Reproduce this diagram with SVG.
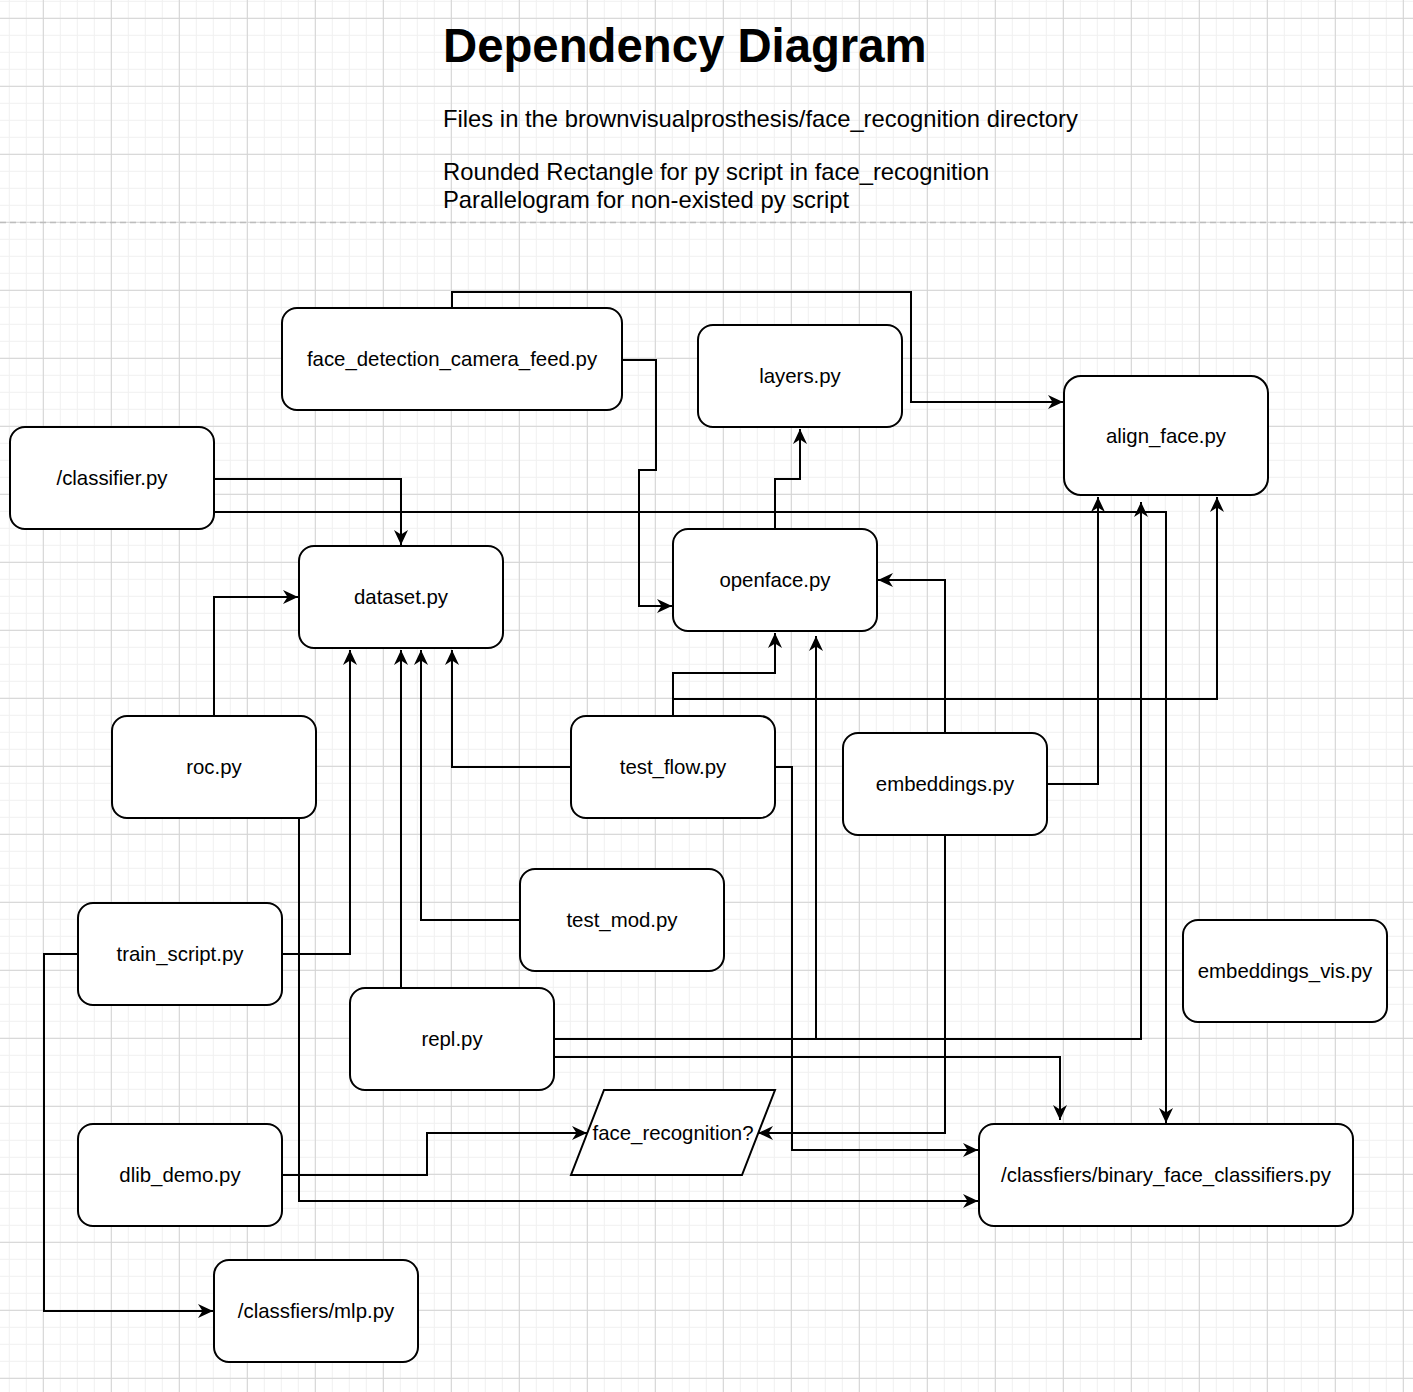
<svg xmlns="http://www.w3.org/2000/svg" width="1413" height="1392" viewBox="0 0 1413 1392">
<defs>
<pattern id="minor" width="17" height="17" patternUnits="userSpaceOnUse" x="8.8" y="0.8">
<path d="M0.5 0V17M0 0.5H17" stroke="#f0f0f0" stroke-width="1" fill="none"/>
</pattern>
<pattern id="major" width="68" height="68" patternUnits="userSpaceOnUse" x="42.8" y="17.8">
<path d="M0.5 0V68M0 0.5H68" stroke="#d3d3d3" stroke-width="1" fill="none"/>
</pattern>
<marker id="arr" markerWidth="15" markerHeight="15" viewBox="0 0 15 15" refX="15" refY="7.5" orient="auto" markerUnits="userSpaceOnUse">
<path d="M0,0.5 L15,7.5 L0,14.5 L4.5,7.5 Z" fill="#000"/>
</marker>
<style>
.edge{fill:none;stroke:#000;stroke-width:2;marker-end:url(#arr)}
.box{fill:#fff;stroke:#000;stroke-width:2}
.lbl{font-family:"Liberation Sans",Arial,sans-serif;font-size:20.4px;fill:#000;text-anchor:middle}
.note{font-family:"Liberation Sans",Arial,sans-serif;font-size:23.8px;fill:#000}
.title{font-family:"Liberation Sans",Arial,sans-serif;font-size:47.3px;font-weight:bold;fill:#000}
</style>
</defs>
<rect width="1413" height="1392" fill="#fff"/>
<rect width="1413" height="1392" fill="url(#minor)"/>
<rect width="1413" height="1392" fill="url(#major)"/>
<line x1="0" y1="222.5" x2="1413" y2="222.5" stroke="#bdbdbd" stroke-width="1.5" stroke-dasharray="6 4"/>

<g id="header">
<text class="title" x="443" y="62">Dependency Diagram</text>
<text class="note" x="443" y="127">Files in the brownvisualprosthesis/face_recognition directory</text>
<text class="note" x="443" y="180">Rounded Rectangle for py script in face_recognition</text>
<text class="note" x="443" y="208">Parallelogram for non-existed py script</text>
</g>

<g id="connectors">
<path class="edge" d="M452,308 V292 H911 V402 H1063"/>
<path class="edge" d="M622,360 H656 V470 H639 V606 H672"/>
<path class="edge" d="M214,479 H401 V545"/>
<path class="edge" d="M214,512 H1166 V1123"/>
<path class="edge" d="M214,716 V597 H298"/>
<path class="edge" d="M299,818 V1201 H978"/>
<path class="edge" d="M282,954 H350 V650"/>
<path class="edge" d="M78,954 H44 V1311 H213"/>
<path class="edge" d="M401,988 V650"/>
<path class="edge" d="M520,920 H421 V650"/>
<path class="edge" d="M571,767 H452 V650"/>
<path class="edge" d="M673,716 V673 H775 V633"/>
<path class="edge" d="M673,716 V699 H1217 V497"/>
<path class="edge" d="M775,767 H792 V1150 H978"/>
<path class="edge" d="M554,1039 H816 V636"/>
<path class="edge" d="M554,1039 H1141 V502"/>
<path class="edge" d="M554,1057 H1060 V1120"/>
<path class="edge" d="M945,733 V580 H878"/>
<path class="edge" d="M1047,784 H1098 V497"/>
<path class="edge" d="M945,835 V1133 H758"/>
<path class="edge" d="M282,1175 H427 V1133 H587"/>
<path class="edge" d="M775,529 V479 H800 V429"/>
</g>

<g id="face_detection_camera_feed">
<rect class="box" x="282" y="308" width="340" height="102" rx="15"/>
<text class="lbl" x="452" y="366">face_detection_camera_feed.py</text>
</g>
<g id="layers">
<rect class="box" x="698" y="325" width="204" height="102" rx="15"/>
<text class="lbl" x="800" y="383">layers.py</text>
</g>
<g id="align_face">
<rect class="box" x="1064" y="376" width="204" height="119" rx="17"/>
<text class="lbl" x="1166" y="443">align_face.py</text>
</g>
<g id="classifier">
<rect class="box" x="10" y="427" width="204" height="102" rx="15"/>
<text class="lbl" x="112" y="485">/classifier.py</text>
</g>
<g id="dataset">
<rect class="box" x="299" y="546" width="204" height="102" rx="15"/>
<text class="lbl" x="401" y="604">dataset.py</text>
</g>
<g id="openface">
<rect class="box" x="673" y="529" width="204" height="102" rx="15"/>
<text class="lbl" x="775" y="587">openface.py</text>
</g>
<g id="roc">
<rect class="box" x="112" y="716" width="204" height="102" rx="15"/>
<text class="lbl" x="214" y="774">roc.py</text>
</g>
<g id="test_flow">
<rect class="box" x="571" y="716" width="204" height="102" rx="15"/>
<text class="lbl" x="673" y="774">test_flow.py</text>
</g>
<g id="embeddings">
<rect class="box" x="843" y="733" width="204" height="102" rx="15"/>
<text class="lbl" x="945" y="791">embeddings.py</text>
</g>
<g id="test_mod">
<rect class="box" x="520" y="869" width="204" height="102" rx="15"/>
<text class="lbl" x="622" y="927">test_mod.py</text>
</g>
<g id="embeddings_vis">
<rect class="box" x="1183" y="920" width="204" height="102" rx="15"/>
<text class="lbl" x="1285" y="978">embeddings_vis.py</text>
</g>
<g id="train_script">
<rect class="box" x="78" y="903" width="204" height="102" rx="15"/>
<text class="lbl" x="180" y="961">train_script.py</text>
</g>
<g id="repl">
<rect class="box" x="350" y="988" width="204" height="102" rx="15"/>
<text class="lbl" x="452" y="1046">repl.py</text>
</g>
<g id="face_recognition">
<polygon class="box" points="604,1090 775,1090 742,1175 571,1175"/>
<text class="lbl" x="673" y="1140">face_recognition?</text>
</g>
<g id="binary_face_classifiers">
<rect class="box" x="979" y="1124" width="374" height="102" rx="15"/>
<text class="lbl" x="1166" y="1182">/classfiers/binary_face_classifiers.py</text>
</g>
<g id="dlib_demo">
<rect class="box" x="78" y="1124" width="204" height="102" rx="15"/>
<text class="lbl" x="180" y="1182">dlib_demo.py</text>
</g>
<g id="mlp">
<rect class="box" x="214" y="1260" width="204" height="102" rx="15"/>
<text class="lbl" x="316" y="1318">/classfiers/mlp.py</text>
</g>
</svg>
